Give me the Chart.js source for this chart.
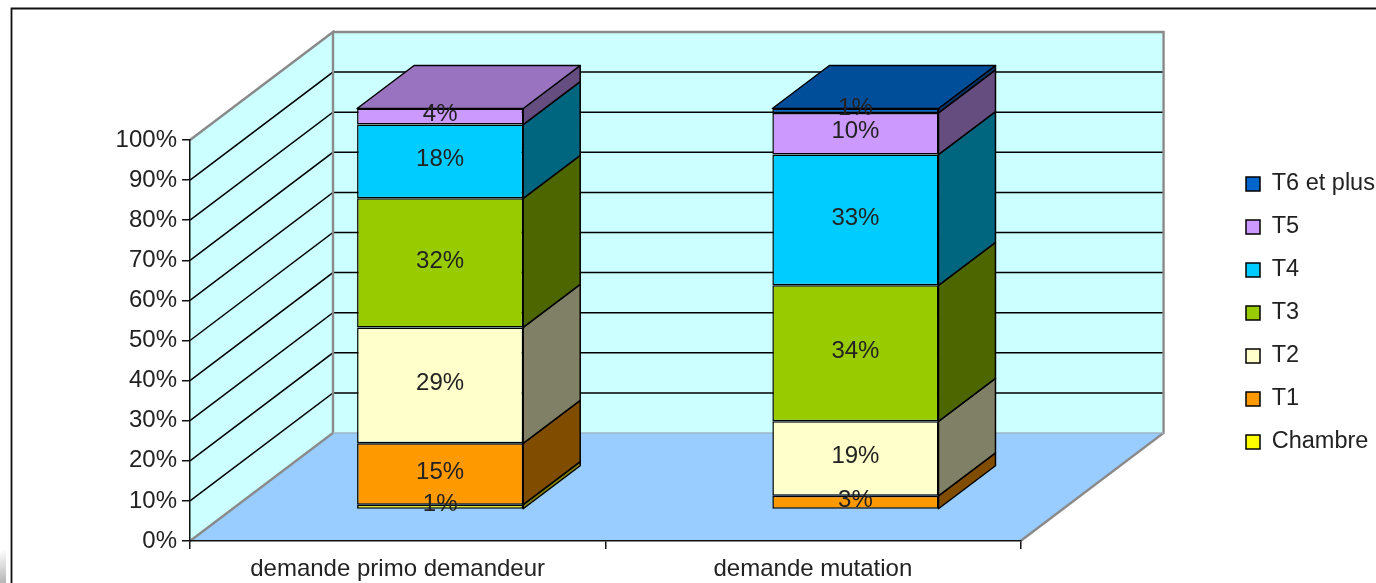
<!DOCTYPE html>
<html>
<head>
<meta charset="utf-8">
<script src="https://cdn.jsdelivr.net/npm/chart.js@4"></script>
<style>
html,body{margin:0;padding:0;background:#fff;overflow:hidden}
canvas{display:block;filter:blur(0.7px)}
</style>
</head>
<body>
<canvas id="c" width="1376" height="583"></canvas>
<script>
const categories = ['demande primo demandeur', 'demande mutation'];
const chambre = [1.2, 0];
const t1 = [15.3, 3.4];
const t2 = [28.9, 18.6];
const t3 = [32.2, 33.9];
const t4 = [18.4, 32.6];
const t5 = [4.0, 10.4];
const t6 = [0, 1.1];
const seriesNames = ['Chambre', 'T1', 'T2', 'T3', 'T4', 'T5', 'T6 et plus'];
const seriesValues = [chambre, t1, t2, t3, t4, t5, t6];
const seriesColors = ['#FFFF00', '#FF9900', '#FFFFCC', '#99CC00', '#00CCFF', '#CC99FF', '#0066CC'];

const FONT = '"Liberation Sans", Arial, sans-serif';
const FONT_SIZE = 24;
const LEGEND_SIZE = 23.5;
const TEXT = '#222222';
const WALL = {dx: 143, dy: -108};
const FRONT = {dx: 42.5, dy: -31.5};
const BAR = {dx: 57, dy: -43};

function shade(hex, f) {
  const n = parseInt(hex.slice(1), 16);
  return 'rgb(' + [(n >> 16) & 255, (n >> 8) & 255, n & 255].map(v => Math.round(v * f)).join(',') + ')';
}
function poly(ctx, pts, fill, stroke, lw) {
  ctx.beginPath();
  pts.forEach((p, i) => i ? ctx.lineTo(p[0], p[1]) : ctx.moveTo(p[0], p[1]));
  ctx.closePath();
  if (fill) { ctx.fillStyle = fill; ctx.fill(); }
  if (stroke) { ctx.strokeStyle = stroke; ctx.lineWidth = lw; ctx.lineJoin = 'round'; ctx.stroke(); }
}

const scene = {
  id: 'scene',
  afterLayout(chart) {
    const lg = chart.legend;
    const pad = lg.options.labels.padding;
    const w = lg.right - lg.left, h = lg.bottom - lg.top;
    lg.left = 1246 - pad; lg.right = lg.left + w;
    lg.top = 184 - pad - LEGEND_SIZE / 2; lg.bottom = lg.top + h;
  },
  beforeDraw(chart) {
    const ctx = chart.ctx, {left, right, top, bottom} = chart.chartArea;
    const y = chart.scales.y;
    ctx.save();
    ctx.fillStyle = '#fff';
    ctx.fillRect(0, 0, chart.width, chart.height);
    const g = ctx.createLinearGradient(0, 550, 6, 583);
    g.addColorStop(0, '#ffffff'); g.addColorStop(1, '#b5b5b5');
    ctx.fillStyle = g;
    ctx.fillRect(0, 550, 6, 33);
    ctx.strokeStyle = '#111';
    ctx.lineWidth = 1.8;
    ctx.beginPath();
    ctx.moveTo(11.5, chart.height); ctx.lineTo(11.5, 8.5); ctx.lineTo(chart.width, 8.5);
    ctx.stroke();

    const d = WALL;
    poly(ctx, [[left, bottom], [left + d.dx, bottom + d.dy], [right + d.dx, bottom + d.dy], [right, bottom]], '#99CCFF');
    poly(ctx, [[left + d.dx, top + d.dy], [right + d.dx, top + d.dy], [right + d.dx, bottom + d.dy], [left + d.dx, bottom + d.dy]], '#CCFFFF');
    poly(ctx, [[left, top], [left + d.dx, top + d.dy], [left + d.dx, bottom + d.dy], [left, bottom]], '#CCFFFF');

    ctx.strokeStyle = '#000';
    ctx.lineWidth = 1.5;
    y.ticks.forEach(t => {
      if (t.value === 0 || t.value === 100) return;
      const py = y.getPixelForValue(t.value);
      ctx.beginPath();
      ctx.moveTo(left, py);
      ctx.lineTo(left + d.dx, py + d.dy);
      ctx.lineTo(right + d.dx, py + d.dy);
      ctx.stroke();
    });
    ctx.strokeStyle = '#8a8a8a';
    ctx.lineWidth = 2.4;
    ctx.beginPath();
    ctx.moveTo(left, bottom); ctx.lineTo(left + d.dx, bottom + d.dy); ctx.lineTo(left + d.dx, top + d.dy);
    ctx.lineTo(left, top);
    ctx.moveTo(left + d.dx, top + d.dy); ctx.lineTo(right + d.dx, top + d.dy); ctx.lineTo(right + d.dx, bottom + d.dy);
    ctx.lineTo(right, bottom);
    ctx.stroke();
    ctx.lineWidth = 1.4;
    ctx.strokeStyle = '#9fb4c4';
    ctx.beginPath();
    ctx.moveTo(left + d.dx, bottom + d.dy); ctx.lineTo(right + d.dx, bottom + d.dy);
    ctx.stroke();
    ctx.restore();
  },
  beforeDatasetsDraw(chart) {
    const ctx = chart.ctx;
    ctx.save();
    ctx.translate(FRONT.dx, FRONT.dy);
    categories.forEach((c, i) => {
      seriesValues.forEach((vals, s) => {
        if (!vals[i]) return;
        const b = chart.getDatasetMeta(s).data[i];
        const r = b.x + b.width / 2;
        poly(ctx, [[r, b.y], [r + BAR.dx, b.y + BAR.dy], [r + BAR.dx, b.base + BAR.dy], [r, b.base]],
          shade(seriesColors[s], 0.5), '#000', 1.5);
      });
      let last = seriesValues.length - 1;
      while (!seriesValues[last][i]) last--;
      const b = chart.getDatasetMeta(last).data[i];
      const l = b.x - b.width / 2, r = b.x + b.width / 2;
      poly(ctx, [[l, b.y], [r, b.y], [r + BAR.dx, b.y + BAR.dy], [l + BAR.dx, b.y + BAR.dy]],
        shade(seriesColors[last], 0.75), '#000', 1.5);
    });
  },
  afterDatasetsDraw(chart) {
    const ctx = chart.ctx;
    ctx.textAlign = 'center';
    ctx.textBaseline = 'middle';
    ctx.font = FONT_SIZE + 'px ' + FONT;
    ctx.fillStyle = TEXT;
    seriesValues.forEach((vals, s) => {
      vals.forEach((v, i) => {
        if (!v) return;
        const b = chart.getDatasetMeta(s).data[i];
        ctx.fillText(Math.round(v) + '%', b.x, (b.y + b.base) / 2 - 2);
      });
    });
    ctx.restore();
  }
};

new Chart(document.getElementById('c'), {
  type: 'bar',
  plugins: [scene],
  data: {
    labels: categories,
    datasets: seriesNames.map((name, s) => ({
      label: name,
      data: seriesValues[s],
      backgroundColor: seriesColors[s],
      borderColor: '#000',
      borderWidth: 1.5,
      borderSkipped: false,
      categoryPercentage: 1,
      barPercentage: 0.4,
      clip: false
    }))
  },
  options: {
    responsive: false,
    animation: false,
    devicePixelRatio: 1,
    layout: {padding: {left: 0, top: 140, bottom: 0, right: 197}},
    plugins: {
      tooltip: {enabled: false},
      title: {display: false},
      legend: {
        position: 'right',
        align: 'start',
        reverse: true,
        labels: {
          boxWidth: 14,
          boxHeight: 14,
          padding: 43 - LEGEND_SIZE,
          color: TEXT,
          font: {family: FONT, size: LEGEND_SIZE}
        }
      }
    },
    scales: {
      x: {
        stacked: true,
        afterFit(s) { s.height = 42; },
        border: {color: '#111', width: 1.5},
        grid: {display: true, drawOnChartArea: false, drawTicks: true, tickLength: 8, color: '#111', lineWidth: 1.5},
        ticks: {color: TEXT, font: {family: FONT, size: FONT_SIZE}, padding: 6, maxRotation: 0}
      },
      y: {
        stacked: true,
        min: 0,
        max: 100,
        afterFit(s) { s.width = 190; },
        border: {color: '#111', width: 1.5},
        grid: {display: true, drawOnChartArea: false, drawTicks: true, tickLength: 8, color: '#111', lineWidth: 1.5},
        ticks: {stepSize: 10, color: TEXT, font: {family: FONT, size: FONT_SIZE}, padding: 5, callback: v => v + '%'}
      }
    }
  }
});
</script>
</body>
</html>
